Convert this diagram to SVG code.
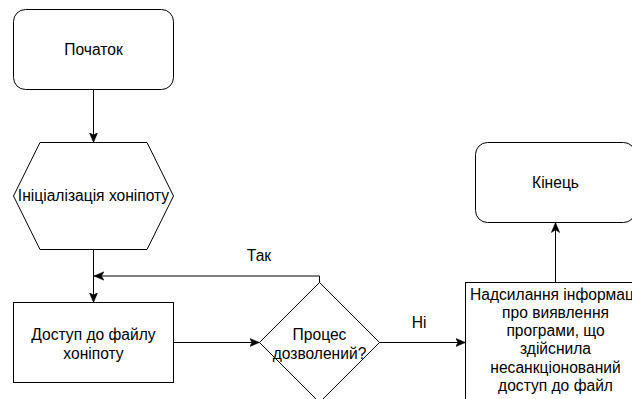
<svg xmlns="http://www.w3.org/2000/svg" width="632" height="399" viewBox="0 0 632 399">
<style>
.shape{fill:#ffffff;stroke:#000000;stroke-width:1}
.edge{fill:none;stroke:#000000;stroke-width:1}
text{font-family:"Liberation Sans",Arial,Helvetica,sans-serif;font-size:15.6px;fill:#000000;text-anchor:middle}
</style>
<defs>
<marker id="arr" viewBox="0 0 10 10" refX="10" refY="5" markerWidth="10" markerHeight="10" markerUnits="userSpaceOnUse" orient="auto">
<path d="M0,0.8 L10,5 L0,9.2 L2.6,5 Z" fill="#000000" stroke="#000000" stroke-width="0.5"/>
</marker>
</defs>
<rect width="632" height="399" fill="#ffffff"/>
<g id="edges">
<path class="edge" d="M93.5,89.5 L93.5,142.5" marker-end="url(#arr)"/>
<path class="edge" d="M93.5,249.5 L93.5,302.5" marker-end="url(#arr)"/>
<path class="edge" d="M319.5,282.5 L319.5,276 L94,276" marker-end="url(#arr)"/>
<path class="edge" d="M173.5,342.5 L259.5,342.5" marker-end="url(#arr)"/>
<path class="edge" d="M379.5,342.5 L465.5,342.5" marker-end="url(#arr)"/>
<path class="edge" d="M555.5,282.5 L555.5,222.5" marker-end="url(#arr)"/>
<text x="259" y="260.5">Так</text>
<text x="419" y="327.5">Ні</text>
</g>
<g id="start">
<rect class="shape" x="13.5" y="9.5" width="160" height="80" rx="12" ry="12"/>
<text x="93.5" y="54.5">Початок</text>
</g>
<g id="init">
<polygon class="shape" points="40,142.5 147,142.5 173.5,196 147,249.5 40,249.5 13.5,196"/>
<text x="93.5" y="201">Ініціалізація хоніпоту</text>
</g>
<g id="access">
<rect class="shape" x="13.5" y="302.5" width="160" height="80"/>
<text x="93.5" y="339.5">Доступ до файлу</text>
<text x="93.5" y="358.5">хоніпоту</text>
</g>
<g id="decision">
<polygon class="shape" points="319.5,282.5 379.5,342.5 319.5,402.5 259.5,342.5"/>
<text x="319.5" y="339.5">Процес</text>
<text x="319.5" y="358.5">дозволений?</text>
</g>
<g id="notify">
<rect class="shape" x="465.5" y="282.5" width="180" height="120"/>
<text x="470" y="299.5" style="text-anchor:start">Надсилання інформац</text>
<text x="555.5" y="317.8">про виявлення</text>
<text x="555.5" y="336.1">програми, що</text>
<text x="555.5" y="354.4">здійснила</text>
<text x="555.5" y="372.7">несанкціонований</text>
<text x="555.5" y="391">доступ до файл</text>
</g>
<g id="end">
<rect class="shape" x="475.5" y="142.5" width="160" height="80" rx="12" ry="12"/>
<text x="555.5" y="187.5">Кінець</text>
</g>
</svg>
